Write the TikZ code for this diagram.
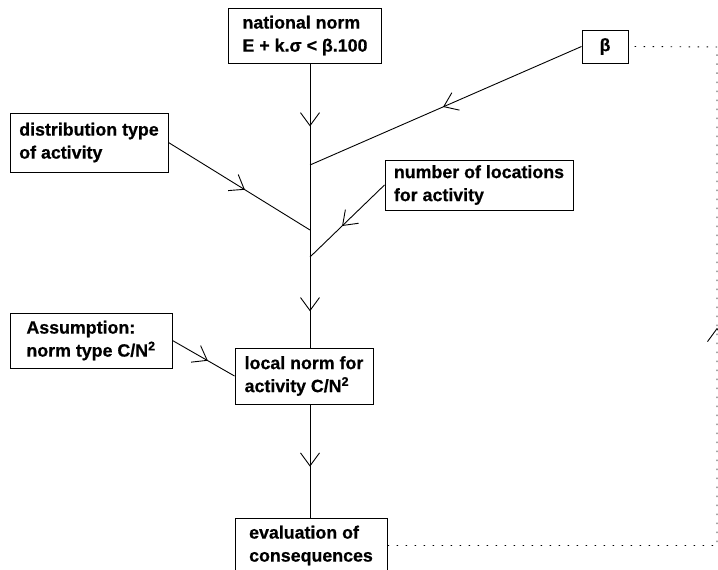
\documentclass[tikz,border=0pt]{standalone}
\usepackage{fontspec}
\setmainfont{Liberation Sans}[BoldFeatures={FakeBold=0.6}]
\usetikzlibrary{arrows.meta, decorations.markings}

\tikzset{
  box/.style={draw, line width=1pt, align=left, inner sep=0pt,
    font=\fontsize{17.8}{23}\selectfont\bfseries},
  flow/.style={line width=0.9pt, postaction={decorate},
    decoration={markings, mark=at position #1 with
      {\arrow{Straight Barb[length=13pt, width=19pt, line width=0.9pt]}}}},
  flow/.default=0.55,
  link/.style={line width=0.9pt},
  dotline/.style={line width=1.5pt, dash pattern=on 1.5pt off 7.5pt},
}

\begin{document}
\begin{tikzpicture}[x=1pt, y=-1pt]
  \useasboundingbox (0,0) rectangle (718,570);
  % boxes
  \node[box, minimum width=153pt, minimum height=55pt] (national) at (305,35.5) {national norm\\E + k.σ < β.100};
  \node[box, minimum width=46pt, minimum height=33pt] (beta) at (605,46.5) {β};
  \node[box, minimum width=158pt, minimum height=59pt] (dist) at (89,142.5) {distribution type\\of activity};
  \node[box, minimum width=188pt, minimum height=50pt] (num) at (479,185) {number of locations\\for activity};
  \node[box, minimum width=162pt, minimum height=55pt] (assump) at (91,340.5) {Assumption:\\norm type C/N\textsuperscript{2}};
  \node[box, minimum width=138pt, minimum height=56pt] (local) at (304,376) {local norm for\\activity C/N\textsuperscript{2}};
  \node[box, minimum width=152pt, minimum height=55pt] (eval) at (311,545.5) {evaluation of\\consequences};
  % junctions on the main line
  \coordinate (j1) at (310,165);
  \coordinate (j2) at (310,230);
  \coordinate (j3) at (310,257);
  \coordinate (cornerTop) at (717,47);
  \coordinate (cornerBot) at (717,545.5);
  % main line
  \draw[flow=0.62] (national.south -| j1) -- (j1);
  \draw[link] (j1) -- (j3);
  \draw[flow=0.6] (j3) -- (local.north -| j3);
  \draw[flow=0.55] (local.south -| j3) -- (eval.north -| j3);
  % inputs
  \draw[flow=0.51] (beta.west) -- (j1);
  \draw[flow=0.54] (dist.east) -- (j2);
  \draw[flow=0.57] (num.west) -- (j3);
  \draw[flow=0.57] (assump.east) -- (local.west);
  % feedback
  \draw[dotline, flow=0.597] (eval.east) -- (cornerBot) -- (cornerTop) -- (beta.east);
\end{tikzpicture}
\end{document}
